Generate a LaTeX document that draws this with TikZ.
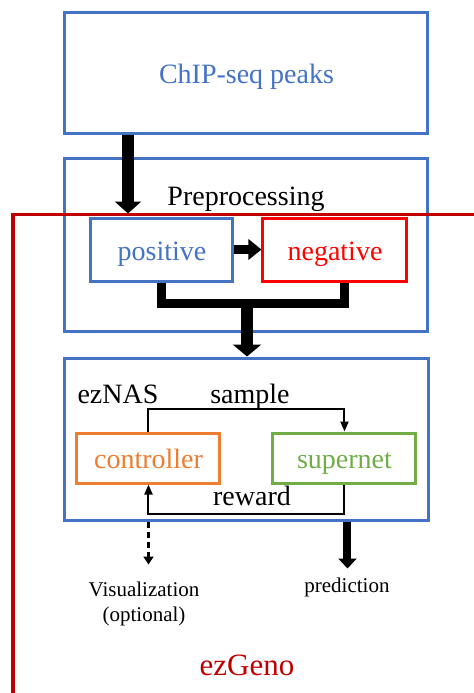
\documentclass[tikz,border=0pt]{standalone}
\usepackage{fontspec}
\setmainfont{Liberation Serif}
\usetikzlibrary{arrows.meta}
\definecolor{cblue}{HTML}{4472C4}
\definecolor{cred}{HTML}{FF0000}
\definecolor{dred}{HTML}{C00000}
\definecolor{corange}{HTML}{ED7D31}
\definecolor{cgreen}{HTML}{70AD47}
\begin{document}
\begin{tikzpicture}[x=0.5pt,y=-0.5pt,
  box/.style={draw, line width=1.5pt, inner sep=0pt, text height=12.5pt, text depth=2pt, font=\fontsize{14}{17}\selectfont},
  txt/.style={inner sep=0pt, anchor=base, font=\fontsize{14}{17}\selectfont},
  small/.style={inner sep=0pt, font=\fontsize{10.5}{12.5}\selectfont, align=center},
  bigarrow/.style={line width=6pt, -{Triangle[length=6pt,width=13pt]}},
  bar/.style={line width=4.5pt, line join=miter},
  thinarr/.style={line width=1pt, -{Triangle[length=5pt,width=4pt]}},
  dasharr/.style={line width=1.25pt, dash pattern=on 3pt off 2pt, -{Triangle[length=4pt,width=5pt]}},
  predarr/.style={line width=4pt, -{Triangle[length=5pt,width=9pt]}},
  frame/.style={draw=dred, line width=1.5pt}
]
\useasboundingbox (0,0) rectangle (473,693);
\fill[white] (0,0) rectangle (473,693);

% top box
\node[box, draw=cblue, text=cblue, minimum width=181.5pt, minimum height=60.5pt] (chip) at (246.5,72.5) {ChIP-seq peaks};

% preprocessing
\node[box, draw=cblue, minimum width=181.5pt, minimum height=86.5pt] (pre) at (246.5,245) {};
\node[txt] (prelabel) at (246,205) {Preprocessing};
\node[box, draw=cblue, text=cblue, minimum width=71pt, minimum height=31.5pt] (pos) at (162,249.5) {positive};
\node[box, draw=cred, text=cred, minimum width=72pt, minimum height=31.5pt] (neg) at (335,249.5) {negative};

% ezGeno frame
\coordinate (fr) at (13,214);
\draw[frame] (478,214) -- (fr) -- (13,698);

% ezNAS
\node[box, draw=cblue, minimum width=182pt, minimum height=81pt] (eznas) at (247,439) {};
\node[txt] (eznaslabel) at (118,403) {ezNAS};
\node[box, draw=corange, text=corange, minimum width=71.5pt, minimum height=25pt] (ctrl) at (148.5,458) {controller};
\node[box, draw=cgreen, text=cgreen, minimum width=71.5pt, minimum height=25pt] (sup) at (344.5,458) {supernet};

% arrows
\draw[bigarrow] ([xshift=-17pt]pos.north |- chip.south) -- ([xshift=-17pt,yshift=1.5pt]pos.north);
\draw[line width=4.5pt, -{Triangle[length=6.5pt,width=10pt]}] (pos.east) -- (neg.west);
\draw[bar] (pos.south) -- ++(0,21) coordinate (m1) -| ([xshift=5pt]neg.south);
\coordinate (mid) at (m1 -| eznas.north);
\draw[line width=6pt, -{Triangle[length=6pt,width=14pt]}] ([yshift=2.25pt]mid) -- (eznas.north);

\draw[thinarr] (ctrl.north) -- ++(0,-23) -| (sup.north);
\node[txt] (samplelabel) at (250,403) {sample};
\draw[thinarr] (sup.south) -- ++(0,29) -| (ctrl.south);
\node[txt] (rewardlabel) at (252,505) {reward};

\draw[dasharr] (ctrl.south |- eznas.south) -- ++(0,43) coordinate (vizend);
\node[small] (viz) at (144,604) {Visualization\\(optional)};
\draw[predarr] ([xshift=1.5pt]sup.south |- eznas.south) -- ++(0,47) coordinate (predend);
\node[small, anchor=base] (pred) at (347,592) {prediction};

\node[inner sep=0pt, anchor=base, font=\fontsize{15.5}{18}\selectfont, text=dred] (ezgeno) at (247,675) {ezGeno};
\end{tikzpicture}
\end{document}
